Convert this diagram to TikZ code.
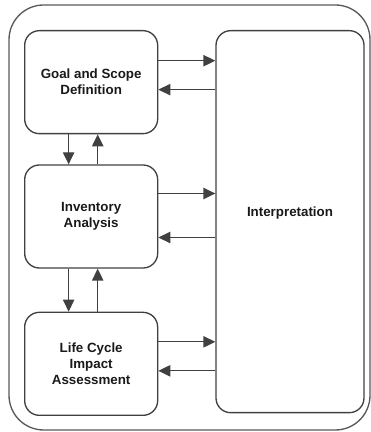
\documentclass[tikz,border=0pt]{standalone}
\usepackage{fontspec}
\setmainfont{Liberation Sans}
\usetikzlibrary{arrows.meta,positioning}

\begin{document}
\begin{tikzpicture}[node distance=22.5pt,
    every node/.style={align=center,font=\bfseries,text=black!90},
    stage/.style={draw=black!75,line width=1pt,rounded corners=11pt,minimum width=99.75pt,minimum height=77.25pt,inner sep=0pt},
    link/.style={-{Triangle[length=9pt,width=8.5pt]},draw=black!75,line width=1pt}]
      \useasboundingbox (0,0) rectangle (278.25pt,324pt);
      \draw[black!65,line width=1pt,rounded corners=26pt] (6.75pt,1.5pt) rectangle (277.5pt,320.25pt);
      \node[stage,anchor=north west] (goal) at (18pt,301.5pt) {Goal and Scope\\Definition};
      \node[stage,below=of goal] (inv) {Inventory\\Analysis};
      \node[stage,below=32.25pt of inv] (lcia) {Life Cycle\\Impact\\Assessment};
      \node[stage,right=42.75pt of goal.north east,anchor=north west,minimum width=111pt,minimum height=286.5pt] (interp) {};
      \node (interplabel) at ([yshift=6.75pt]interp.center) {Interpretation};
      \draw[link] ([yshift=16.1pt]goal.east)--([yshift=16.1pt]goal.east-|interp.west);
      \draw[link] ([yshift=-5.6pt]goal.east-|interp.west)--([yshift=-5.6pt]goal.east);
      \draw[link] ([yshift=17.25pt]inv.east)--([yshift=17.25pt]inv.east-|interp.west);
      \draw[link] ([yshift=-15.75pt]inv.east-|interp.west)--([yshift=-15.75pt]inv.east);
      \draw[link] ([yshift=16.5pt]lcia.east)--([yshift=16.5pt]lcia.east-|interp.west);
      \draw[link] ([yshift=-5.25pt]lcia.east-|interp.west)--([yshift=-5.25pt]lcia.east);
      \draw[link] ([xshift=-16.9pt]goal.south)--([xshift=-16.9pt]inv.north);
      \draw[link] ([xshift=4.9pt]inv.north)--([xshift=4.9pt]goal.south);
      \draw[link] ([xshift=-16.9pt]inv.south)--([xshift=-16.9pt]lcia.north);
      \draw[link] ([xshift=4.9pt]lcia.north)--([xshift=4.9pt]inv.south);
    \end{tikzpicture}
\end{document}
